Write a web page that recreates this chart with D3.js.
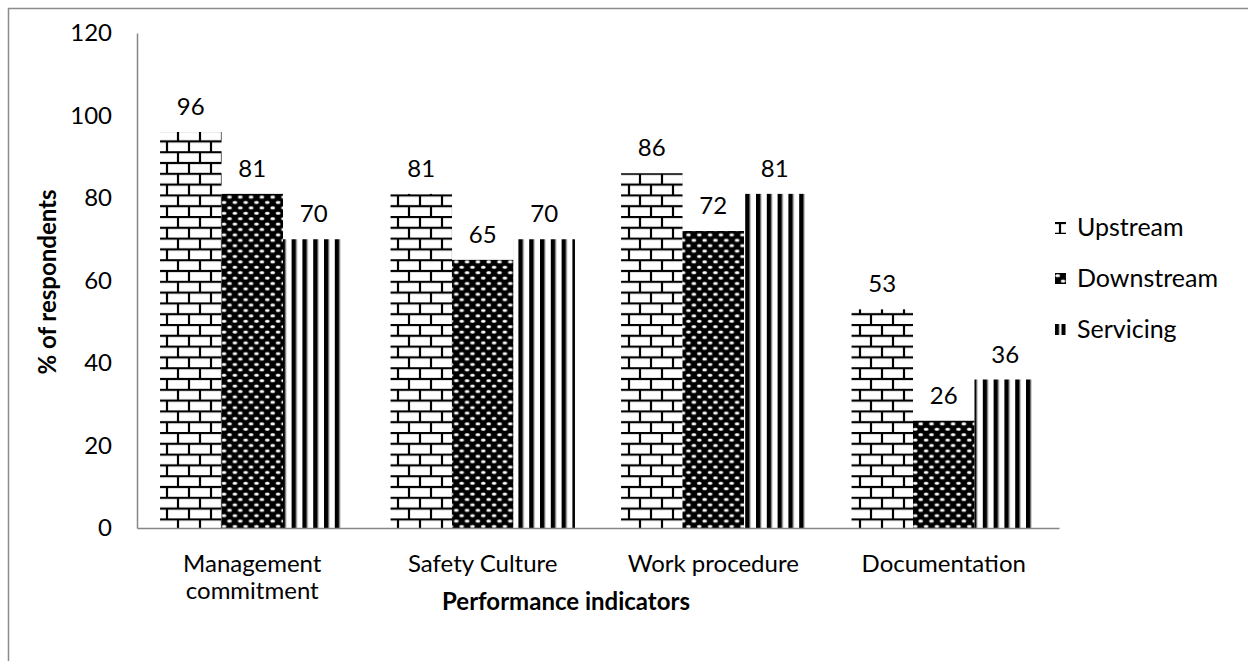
<!DOCTYPE html>
<html><head><meta charset="utf-8">
<script src="https://cdn.jsdelivr.net/npm/d3@7"></script>
<style>
html,body{margin:0;padding:0;background:#fff;}
text{font-family:Lato,"Open Sans",sans-serif;fill:#000;}
</style></head>
<body>
<svg id="chart" width="1248" height="661"></svg>
<script>
const categories = [["Management","commitment"],["Safety Culture"],["Work procedure"],["Documentation"]];
const seriesNames = ["Upstream","Downstream","Servicing"];
const upstream = [96, 81, 86, 53];
const downstream = [81, 65, 72, 26];
const servicing = [70, 70, 81, 36];
const yTicks = [0, 20, 40, 60, 80, 100, 120];
const seriesValues = [upstream, downstream, servicing];

(function(){
const svg = d3.select("#chart");
const W = 1248, H = 661;
const FS = "24px";
svg.append("rect").attr("x",8.5).attr("y",8.5).attr("width",W).attr("height",H)
  .attr("fill","#fff").attr("stroke","#8c8c8c").attr("stroke-width",1.5);

const defs = svg.append("defs");
function brickPattern(id, ox, oy){
  const p = defs.append("pattern").attr("id",id).attr("patternUnits","userSpaceOnUse")
    .attr("width",22).attr("height",21.6).attr("x",ox).attr("y",oy);
  p.append("rect").attr("width",22).attr("height",21.6).attr("fill","#fff");
  const bs = p.append("g").attr("stroke","#000").attr("stroke-width",2.2);
  bs.append("line").attr("x1",0).attr("x2",22).attr("y1",1).attr("y2",1);
  bs.append("line").attr("x1",0).attr("x2",22).attr("y1",11.8).attr("y2",11.8);
  bs.append("line").attr("x1",2).attr("x2",2).attr("y1",1).attr("y2",11.8);
  bs.append("line").attr("x1",13).attr("x2",13).attr("y1",11.8).attr("y2",21.6);
}
function dotPattern(id, ox, oy){
  const p = defs.append("pattern").attr("id",id).attr("patternUnits","userSpaceOnUse")
    .attr("width",10.8).attr("height",10.8).attr("x",ox).attr("y",oy);
  p.append("rect").attr("width",10.8).attr("height",10.8).attr("fill","#000");
  [[2.7,2.7],[8.1,8.1]].forEach(([cx,cy])=>{
    p.append("ellipse").attr("cx",cx).attr("cy",cy).attr("rx",2.6).attr("ry",1.8).attr("fill","#8a8a8a");
    p.append("ellipse").attr("cx",cx).attr("cy",cy).attr("rx",2.0).attr("ry",1.2).attr("fill","#fff");
  });
}
function stripePattern(id, ox, oy, period, bw){
  const p = defs.append("pattern").attr("id",id).attr("patternUnits","userSpaceOnUse")
    .attr("width",period).attr("height",10.8).attr("x",ox).attr("y",oy);
  p.append("rect").attr("width",period).attr("height",10.8).attr("fill","#fff");
  p.append("rect").attr("x",0).attr("width",bw).attr("height",10.8).attr("fill","#000");
  p.append("rect").attr("x",bw).attr("width",0.8).attr("height",10.8).attr("fill","#999");
}
brickPattern("p0",0,0); dotPattern("p1",0,0); stripePattern("p2",0,0,10.8,4.6);

const pLeft = 137, pRight = 1059, pTop = 33, pBottom = 528;
const x = d3.scaleBand().domain(categories.map((c,i)=>i)).range([pLeft,pRight]).paddingInner(0.2).paddingOuter(0.1);
const x1 = d3.scaleBand().domain(seriesNames).range([0, x.bandwidth()]);
const y = d3.scaleLinear().domain([0,120]).range([pBottom, pTop]);

// y axis
const yAxis = svg.append("g").attr("transform",`translate(${pLeft},0)`)
  .call(d3.axisLeft(y).tickValues(yTicks).tickSize(0).tickPadding(25));
yAxis.select(".domain").attr("stroke","#868686").attr("stroke-width",1.5);
yAxis.selectAll("text").style("font-family","Lato,sans-serif").style("font-size",FS).attr("fill","#000");

// bars
seriesNames.forEach((s,si)=>{
  const g = svg.append("g");
  g.selectAll("rect").data(seriesValues[si]).join("rect")
    .attr("x",(d,i)=>x(i)+x1(s))
    .attr("y",d=>y(d))
    .attr("width",x1.bandwidth())
    .attr("height",d=>y(0)-y(d))
    .attr("fill",`url(#p${si})`);
  g.selectAll("text").data(seriesValues[si]).join("text")
    .attr("x",(d,i)=>x(i)+x1(s)+x1.bandwidth()/2)
    .attr("y",d=>y(d)-17)
    .attr("text-anchor","middle")
    .style("font-size",FS)
    .text(d=>d);
});

// x axis
const xAxis = svg.append("g").attr("transform",`translate(0,${pBottom})`)
  .call(d3.axisBottom(x).tickSize(0).tickFormat(""));
xAxis.select(".domain").attr("stroke","#868686").attr("stroke-width",1.5);
categories.forEach((c,i)=>{
  const t = svg.append("text").attr("x",x(i)+x.bandwidth()/2).attr("y",572)
    .attr("text-anchor","middle").style("font-size",FS);
  c.forEach((line,li)=>t.append("tspan").attr("x",x(i)+x.bandwidth()/2).attr("dy",li?27:0).text(line));
});

// axis titles
svg.append("text").attr("x",566).attr("y",610).attr("text-anchor","middle")
  .style("font-size","24px").style("font-weight","bold").text("Performance indicators");
svg.append("text").attr("transform",`translate(56,282) rotate(-90)`)
  .attr("text-anchor","middle").style("font-size","24px").style("font-weight","bold").text("% of respondents");

// legend
const legendY = [228, 279, 330];
const sx = 1055;
brickPattern("l0", sx+3, legendY[0]-6);
dotPattern("l1", sx, legendY[1]-6);
stripePattern("l2", sx, legendY[2]-6, 6.5, 4);
seriesNames.forEach((s,si)=>{
  svg.append("rect").attr("x",sx).attr("y",legendY[si]-6).attr("width",11).attr("height",si===0?12:11)
    .attr("fill",`url(#l${si})`);
  svg.append("text").attr("x",1077).attr("y",legendY[si]+8).style("font-size","25px").text(s);
});
})();
</script>
</body></html>
